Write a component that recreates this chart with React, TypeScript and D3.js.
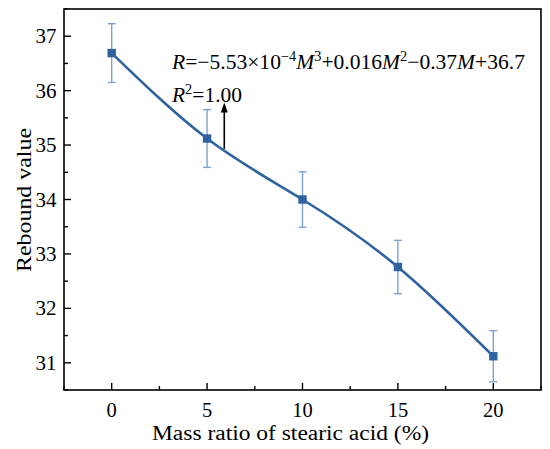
import React from 'react'
import * as d3 from 'd3'

const massRatio = [0, 5, 10, 15, 20]
const rebound = [36.69, 35.12, 34.0, 32.76, 31.12]
const errorBar = [0.54, 0.53, 0.51, 0.49, 0.47]
const xTicks = [0, 5, 10, 15, 20]
const yTicks = [31, 32, 33, 34, 35, 36, 37]

const width = 550
const height = 449
const margin = { top: 9, right: 9, bottom: 59, left: 64 }

const lineColor = '#2f62a0'
const errColor = '#7fa2cf'
const font = '"Palatino Linotype", Palatino, "Book Antiqua", "Liberation Serif", serif'

const App: React.FC = () => {
    const x = d3
        .scaleLinear()
        .domain([-2.5, 22.5])
        .range([margin.left, width - margin.right])
    const y = d3
        .scaleLinear()
        .domain([30.5, 37.5])
        .range([height - margin.bottom, margin.top])

    const pts = massRatio.map((m, i) => ({ m, r: rebound[i], e: errorBar[i] }))

    const line = d3
        .line<{ m: number; r: number }>()
        .x((d) => x(d.m))
        .y((d) => y(d.r))
        .curve(d3.curveNatural)

    // minor ticks halfway between majors
    const xMinor = d3.range(-2.5, 22.6, 2.5).filter((v) => v % 5 !== 0)
    const yMinor = d3.range(30.5, 37.6, 0.5).filter((v) => v % 1 !== 0)

    const x0 = margin.left
    const x1 = width - margin.right
    const y0 = height - margin.bottom
    const y1 = margin.top

    const arrowX = x(5.9)
    const arrowBase = y(34.93)
    const arrowTip = y(35.78)

    return (
        <svg
            width={width}
            height={height}
            style={{ position: 'absolute', left: 0, top: 0, background: '#fff' }}
            fontFamily={font}
        >
            {/* fitted curve */}
            <path d={line(pts) || ''} fill="none" stroke={lineColor} strokeWidth={2.6} />

            {/* error bars */}
            {pts.map((d, i) => (
                <g key={'e' + i} stroke={errColor} strokeWidth={1.4}>
                    <line x1={x(d.m)} x2={x(d.m)} y1={y(d.r - d.e)} y2={y(d.r + d.e)} />
                    <line x1={x(d.m) - 4} x2={x(d.m) + 4} y1={y(d.r - d.e)} y2={y(d.r - d.e)} />
                    <line x1={x(d.m) - 4} x2={x(d.m) + 4} y1={y(d.r + d.e)} y2={y(d.r + d.e)} />
                </g>
            ))}

            {/* markers */}
            {pts.map((d, i) => (
                <rect
                    key={'m' + i}
                    x={x(d.m) - 4.2}
                    y={y(d.r) - 4.2}
                    width={8.4}
                    height={8.4}
                    fill={lineColor}
                />
            ))}

            {/* frame */}
            <rect
                x={x0}
                y={y1}
                width={x1 - x0}
                height={y0 - y1}
                fill="none"
                stroke="#000"
                strokeWidth={1.6}
            />

            {/* x ticks */}
            {xTicks.map((t) => (
                <g key={'xt' + t}>
                    <line x1={x(t)} x2={x(t)} y1={y0} y2={y0 - 7} stroke="#000" strokeWidth={1.4} />
                    <text x={x(t)} y={y0 + 27} textAnchor="middle" fontSize={20.5}>
                        {t}
                    </text>
                </g>
            ))}
            {xMinor.map((t) => (
                <line key={'xm' + t} x1={x(t)} x2={x(t)} y1={y0} y2={y0 - 4} stroke="#000" strokeWidth={1.4} />
            ))}

            {/* y ticks */}
            {yTicks.map((t) => (
                <g key={'yt' + t}>
                    <line x1={x0} x2={x0 + 7} y1={y(t)} y2={y(t)} stroke="#000" strokeWidth={1.4} />
                    <text x={x0 - 7.5} y={y(t) + 7} textAnchor="end" fontSize={21}>
                        {t}
                    </text>
                </g>
            ))}
            {yMinor.map((t) => (
                <line key={'ym' + t} x1={x0} x2={x0 + 4} y1={y(t)} y2={y(t)} stroke="#000" strokeWidth={1.4} />
            ))}

            {/* axis titles */}
            <text x={152} y={440} fontSize={20} textLength={277} lengthAdjust="spacingAndGlyphs">
                Mass ratio of stearic acid (%)
            </text>
            <text
                transform={`translate(30.5,272) rotate(-90)`}
                fontSize={21}
                textLength={144}
                lengthAdjust="spacingAndGlyphs"
            >
                Rebound value
            </text>

            {/* equation */}
            <text x={172} y={68.5} fontSize={21} textLength={353} lengthAdjust="spacingAndGlyphs">
                <tspan fontStyle="italic">R</tspan>
                <tspan>=−5.53×10</tspan>
                <tspan fontSize={14} dy={-8}>−4</tspan>
                <tspan fontStyle="italic" dy={8}>M</tspan>
                <tspan fontSize={14} dy={-8}>3</tspan>
                <tspan dy={8}>+0.016</tspan>
                <tspan fontStyle="italic">M</tspan>
                <tspan fontSize={14} dy={-8}>2</tspan>
                <tspan dy={8}>−0.37</tspan>
                <tspan fontStyle="italic">M</tspan>
                <tspan>+36.7</tspan>
            </text>
            <text x={172} y={101.5} fontSize={21} textLength={70} lengthAdjust="spacingAndGlyphs">
                <tspan fontStyle="italic">R</tspan>
                <tspan fontSize={14} dy={-8}>2</tspan>
                <tspan dy={8}>=1.00</tspan>
            </text>

            {/* arrow */}
            <line x1={arrowX} x2={arrowX} y1={arrowBase} y2={arrowTip + 8} stroke="#000" strokeWidth={1.6} />
            <path
                d={`M${arrowX},${arrowTip} L${arrowX - 3.5},${arrowTip + 10} L${arrowX + 3.5},${arrowTip + 10} Z`}
                fill="#000"
            />
        </svg>
    )
}

export default App
